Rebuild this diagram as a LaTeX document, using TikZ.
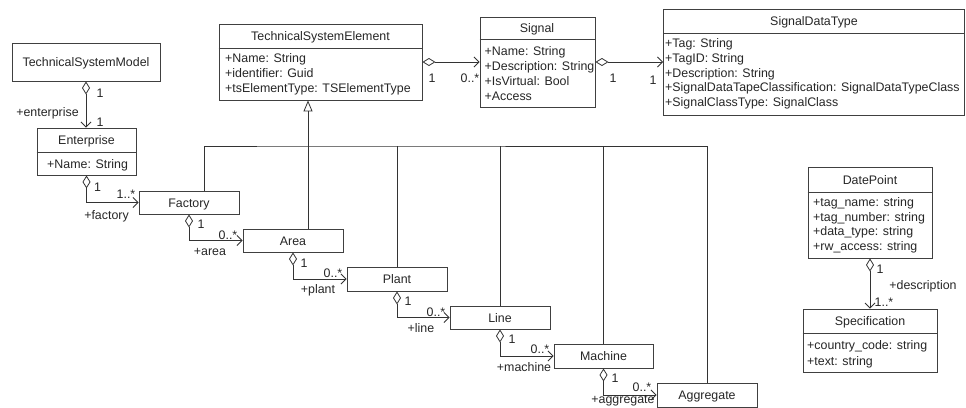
\documentclass[tikz,border=0pt]{standalone}
\usepackage{fontspec}
\setmainfont{Liberation Sans}
\usetikzlibrary{arrows.meta}
\begin{document}
\begin{tikzpicture}[x=1pt,y=-1pt,
  txt/.style={font=\fontsize{12.4}{14.7}\selectfont, inner sep=0pt, text=black!85},
  hdtext/.style={txt, anchor=base},
  attrtext/.style={txt, anchor=base west},
  lbltext/.style={txt, anchor=center},
  clsbox/.style={draw=black!75, line width=0.9pt, fill=white, inner sep=0pt},
  divl/.style={draw=black!75, line width=0.9pt},
  conn/.style={draw=black!80, line width=0.8pt},
  aggr line/.style={conn, {Diamond[open,length=13pt,width=8pt]}-{Straight Barb[length=5pt,width=10pt]}},
  gen line/.style={conn, -{Triangle[open,length=11pt,width=9pt]}}
]
\useasboundingbox (0,0) rectangle (966,407);

% boxes
\node[clsbox, minimum width=148pt, minimum height=38pt] (tsm) at (86,62) {};
\node[clsbox, minimum width=99pt, minimum height=47pt] (ent) at (86.5,151.5) {};
\node[clsbox, minimum width=203pt, minimum height=76pt] (tse) at (320.5,62) {};
\node[clsbox, minimum width=115pt, minimum height=90pt] (sig) at (537.5,62) {};
\node[clsbox, minimum width=301pt, minimum height=106pt] (sdt) at (814,62) {};
\node[clsbox, minimum width=100pt, minimum height=23pt] (fac) at (189,202.5) {};
\node[clsbox, minimum width=100pt, minimum height=23pt] (area) at (293,240.5) {};
\node[clsbox, minimum width=100pt, minimum height=24pt] (plant) at (397,279) {};
\node[clsbox, minimum width=100pt, minimum height=23pt] (line) at (500,317.5) {};
\node[clsbox, minimum width=99pt, minimum height=24pt] (mach) at (603.5,356) {};
\node[clsbox, minimum width=100pt, minimum height=24pt] (aggr) at (707,395) {};
\node[clsbox, minimum width=124pt, minimum height=91pt] (dp) at (870,212.5) {};
\node[clsbox, minimum width=134pt, minimum height=63pt] (spec) at (870,340.5) {};

% dividers
\draw[divl] (ent.west |- 0,152) -- (ent.east |- 0,152);
\draw[divl] (tse.west |- 0,48) -- (tse.east |- 0,48);
\draw[divl] (sig.west |- 0,39) -- (sig.east |- 0,39);
\draw[divl] (sdt.west |- 0,33) -- (sdt.east |- 0,33);
\draw[divl] (dp.west |- 0,192) -- (dp.east |- 0,192);
\draw[divl] (spec.west |- 0,333) -- (spec.east |- 0,333);

% headers
\node[hdtext] (tsmh) at (86,66.5) {TechnicalSystemModel};
\node[hdtext] (enth) at (86.5,144.5) {Enterprise};
\node[hdtext] (tseh) at (320.5,40.5) {TechnicalSystemElement};
\node[hdtext] (sigh) at (537,32.5) {Signal};
\node[hdtext] (sdth) at (814,25.5) {SignalDataType};
\node[hdtext] (fach) at (189,207) {Factory};
\node[hdtext] (areah) at (293,245) {Area};
\node[hdtext] (planth) at (397,283.5) {Plant};
\node[hdtext] (lineh) at (500,322) {Line};
\node[hdtext] (machh) at (603.5,360.5) {Machine};
\node[hdtext] (aggrh) at (707,399.5) {Aggregate};
\node[hdtext] (dph) at (870,184.5) {DatePoint};
\node[hdtext] (spech) at (870,325.5) {Specification};

% attributes
\node[attrtext] (ea1) at (47,168.5) {+Name: String};
\node[attrtext] (ta1) at (225,62.5) {+Name: String};
\node[attrtext] (ta2) at (225,77.5) {+identifier: Guid};
\node[attrtext] (ta3) at (225,92.5) {+tsElementType: TSElementType};
\node[attrtext] (sa1) at (484.5,55.5) {+Name: String};
\node[attrtext] (sa2) at (484.5,70.5) {+Description: String};
\node[attrtext] (sa3) at (484.5,85.5) {+IsVirtual: Bool};
\node[attrtext] (sa4) at (484.5,100.5) {+Access};
\node[attrtext] (da1) at (665,47.5) {+Tag: String};
\node[attrtext] (da2) at (665,62.5) {+TagID: String};
\node[attrtext] (da3) at (665,77.5) {+Description: String};
\node[attrtext] (da4) at (665,91.5) {+SignalDataTapeClassification: SignalDataTypeClass};
\node[attrtext] (da5) at (665,106.5) {+SignalClassType: SignalClass};
\node[attrtext] (pa1) at (813,206.5) {+tag\_name: string};
\node[attrtext] (pa2) at (813,221.5) {+tag\_number: string};
\node[attrtext] (pa3) at (813,235.5) {+data\_type: string};
\node[attrtext] (pa4) at (813,250.5) {+rw\_access: string};
\node[attrtext] (ca1) at (807,349.5) {+country\_code: string};
\node[attrtext] (ca2) at (807,365.5) {+text: string};

% aggregations
\draw[aggr line] (tsm.south) -- (tsm.south |- ent.north);
\draw[aggr line] (ent.south) |- (fac.west);
\draw[aggr line] (fac.south) |- (area.west);
\draw[aggr line] (area.south) |- (plant.west);
\draw[aggr line] (plant.south) |- (line.west);
\draw[aggr line] (line.south) |- (mach.west);
\draw[aggr line] (mach.south) |- (aggr.west);
\draw[aggr line] (tse.east) -- (sig.west);
\draw[aggr line] (sig.east) -- (sdt.west);
\draw[aggr line] (dp.south) -- (spec.north);

% generalization
\coordinate (bus) at (308,146);
\draw[gen line] (bus) -- (bus |- tse.south);
\draw[conn] ([xshift=15pt]fac.north) |- (bus) -| (aggr.north);
\draw[conn] ([xshift=15pt]area.north) -- (bus);
\draw[conn] (plant.north) -- (plant.north |- bus);
\draw[conn] (line.north) -- (line.north |- bus);
\draw[conn] (mach.north) -- (mach.north |- bus);

% labels
\node[lbltext] (l1) at (100,93) {1};
\node[lbltext] (l2) at (47.5,113) {+enterprise};
\node[lbltext] (l3) at (100,122) {1};
\node[lbltext] (l4) at (97.5,187) {1};
\node[lbltext] (l5) at (126,194) {1..*};
\node[lbltext] (l6) at (106.5,216) {+factory};
\node[lbltext] (l7) at (201,224) {1};
\node[lbltext] (l8) at (228,235) {0..*};
\node[lbltext] (l9) at (210,252) {+area};
\node[lbltext] (l10) at (304,263) {1};
\node[lbltext] (l11) at (333,273) {0..*};
\node[lbltext] (l12) at (318,290) {+plant};
\node[lbltext] (l13) at (408,301) {1};
\node[lbltext] (l14) at (436,312) {0..*};
\node[lbltext] (l15) at (421,328) {+line};
\node[lbltext] (l16) at (512,339) {1};
\node[lbltext] (l17) at (540,349) {0..*};
\node[lbltext] (l18) at (524,367) {+machine};
\node[lbltext] (l19) at (615,378) {1};
\node[lbltext] (l20) at (642,387) {0..*};
\node[lbltext] (l21) at (623,401) {+aggregate};
\node[lbltext] (l22) at (432,78) {1};
\node[lbltext] (l23) at (470,78) {0..*};
\node[lbltext] (l24) at (613,78) {1};
\node[lbltext] (l25) at (653,80) {1};
\node[lbltext] (l26) at (880,269) {1};
\node[lbltext] (l27) at (923,286) {+description};
\node[lbltext] (l28) at (884,302) {1..*};
\end{tikzpicture}
\end{document}
